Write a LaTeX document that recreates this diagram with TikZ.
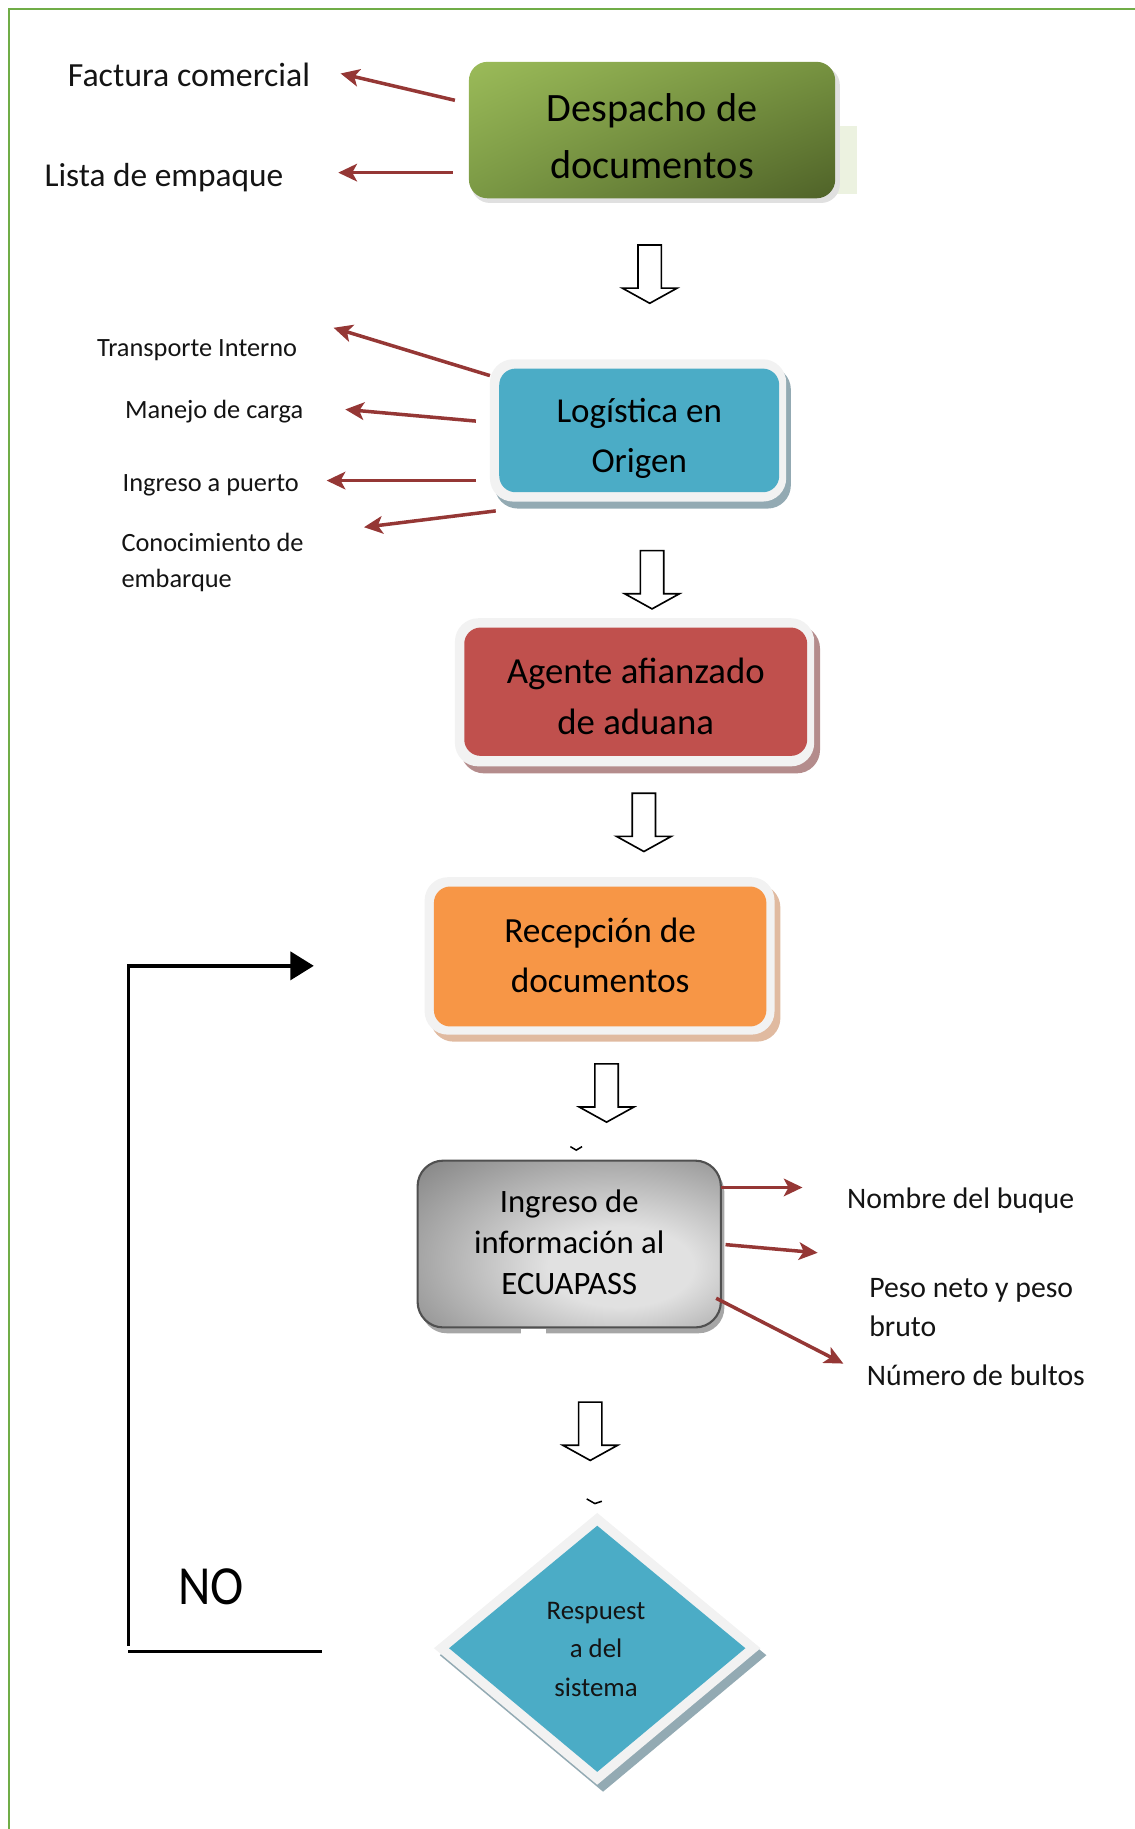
\documentclass[tikz,border=0pt]{standalone}
\usepackage{fontspec}
\setmainfont{Carlito}
\usetikzlibrary{arrows.meta,shapes.geometric,shadings}
\definecolor{borderC}{RGB}{112,173,71}
\definecolor{arrC}{RGB}{149,55,53}
\definecolor{blueC}{RGB}{75,172,198}
\definecolor{redC}{RGB}{192,80,77}
\definecolor{orangeC}{RGB}{247,150,70}
\definecolor{frameC}{RGB}{242,242,242}
\definecolor{blueSh}{RGB}{147,170,179}
\definecolor{redSh}{RGB}{180,140,140}
\definecolor{orangeSh}{RGB}{224,186,160}
\definecolor{gUL}{RGB}{155,187,89}
\definecolor{gUR}{RGB}{118,146,64}
\definecolor{gLL}{RGB}{122,152,68}
\definecolor{gLR}{RGB}{79,98,40}
\definecolor{gPale}{RGB}{236,242,224}
\definecolor{ecLight}{RGB}{225,225,225}
\definecolor{ecDark}{RGB}{105,105,105}
\definecolor{ecBorder}{RGB}{80,80,80}
\definecolor{txtC}{RGB}{20,20,20}
\pgfdeclareradialshading{ecuash}{\pgfpoint{10bp}{-8bp}}{color(0bp)=(ecLight); color(12bp)=(ecLight); color(50bp)=(ecDark); color(80bp)=(ecDark)}
\tikzset{
  frame/.style={fill=frameC, rounded corners=20pt},
  inbox/.style={rounded corners=14pt},
  boxtext/.style={align=center, inner sep=0pt, text=black},
  redarr/.style={draw=arrC, line width=3pt, -{Stealth[length=16pt,width=15pt,inset=4pt]}},
  lbl/.style={anchor=west, inner sep=0pt, text=txtC, align=left},
  hdown/.pic={\draw[fill=white,line width=1.4pt,line join=miter] (-10,0) -- (10,0) -- (10,37) -- (23.5,37) -- (0,50) -- (-23.5,37) -- (-10,37) -- cycle;}
}
\begin{document}
\begin{tikzpicture}[x=1pt,y=-1pt]
\useasboundingbox (0,0) rectangle (973,1568);
% page border
\draw[borderC, line width=2pt] (8,1570) -- (8,8) -- (975,8);

% ---- Box 1: Despacho de documentos
\fill[gPale] (700,108) rectangle (735,166);
\fill[black!12, rounded corners=16pt] (404,57) rectangle (720,174);
\shade[rounded corners=16pt, upper left=gUL, upper right=gUR, lower left=gLL, lower right=gLR]
      (402,53) rectangle (716,170);
\node[boxtext, font=\fontsize{34.5}{49}\selectfont] (desp) at (559,117) {Despacho de\\documentos};

\node[lbl, font=\fontsize{29}{35}\selectfont] (fact) at (58,64) {Factura comercial};
\node[lbl, font=\fontsize{28.6}{35}\selectfont] (lista) at (38,152) {Lista de empaque};
\coordinate (f1) at (390,86);  \coordinate (f2) at (292,63);
\coordinate (l1) at (388,148); \coordinate (l2) at (290,148);
\draw[redarr] (f1) -- (f2);
\draw[redarr] (l1) -- (l2);

\pic at (557,210) {hdown};

% ---- Box 2: Logistica en Origen
\fill[blueSh, rounded corners=20pt] (424,314) rectangle (678,436);
\fill[frame] (420,308) rectangle (674,430);
\fill[inbox, blueC] (428,316) rectangle (668,422);
\node[boxtext, font=\fontsize{30}{43}\selectfont] (log) at (548,376) {Logística en\\Origen};

\node[lbl, font=\fontsize{22.6}{31}\selectfont] (trans) at (83,300) {Transporte Interno};
\node[lbl, font=\fontsize{22.6}{31}\selectfont] (manejo) at (107,353) {Manejo de carga};
\node[lbl, font=\fontsize{22.6}{31}\selectfont] (ingp) at (105,416) {Ingreso a puerto};
\node[lbl, font=\fontsize{22.6}{31}\selectfont] (conoc) at (104,482) {Conocimiento de\\embarque};
\coordinate (t1) at (420,322); \coordinate (t2) at (286,281);
\coordinate (m1) at (408,361); \coordinate (m2) at (296,351);
\coordinate (p1) at (408,412); \coordinate (p2) at (280,412);
\coordinate (c1) at (425,438); \coordinate (c2) at (312,452);
\draw[redarr] (t1) -- (t2);
\draw[redarr] (m1) -- (m2);
\draw[redarr] (p1) -- (p2);
\draw[redarr] (c1) -- (c2);

\pic at (559,472) {hdown};

% ---- Box 3: Agente afianzado de aduana
\fill[redSh, rounded corners=20pt] (395,536) rectangle (703,663);
\fill[frame] (390,530) rectangle (698,657);
\fill[inbox, redC] (398,538) rectangle (692,648);
\node[boxtext, font=\fontsize{31.5}{44}\selectfont] (agente) at (545,597) {Agente afianzado\\de aduana};

\pic at (552,680) {hdown};

% ---- Box 4: Recepcion de documentos
\fill[orangeSh, rounded corners=20pt] (369,758) rectangle (669,893);
\fill[frame] (364,752) rectangle (664,887);
\fill[inbox, orangeC] (372,760) rectangle (657,880);
\node[boxtext, font=\fontsize{30.3}{43}\selectfont] (recep) at (514.5,819) {Recepción de\\documentos};

\pic at (520,912) {hdown};

% ---- Box 5: ECUAPASS
\draw[line width=1.3pt] (489,983) -- (494,986) -- (499,983);
\fill[black!35, rounded corners=22pt] (361,1000) rectangle (621,1143);
\fill[white] (447,1139) rectangle (468,1145);
\path[rounded corners=22pt, draw=ecBorder, line width=1.8pt, shading=ecuash] (358,995) rectangle (618,1138);
\node[boxtext, font=\fontsize{28}{35.5}\selectfont] (ecua) at (488,1065) {Ingreso de\\información al\\ECUAPASS};

\node[lbl, font=\fontsize{25.5}{33}\selectfont] (nomb) at (726,1029) {Nombre del buque};
\node[lbl, font=\fontsize{25.5}{33}\selectfont] (peso) at (745,1121) {Peso neto y peso\\bruto};
\node[lbl, font=\fontsize{25.5}{33}\selectfont] (bult) at (743,1179) {Número de bultos};
\coordinate (n1) at (618,1018); \coordinate (n2) at (688,1018);
\coordinate (w1) at (622,1067); \coordinate (w2) at (701,1074);
\coordinate (b1) at (614,1113); \coordinate (b2) at (723,1169);
\draw[redarr] (n1) -- (n2);
\draw[redarr] (w1) -- (w2);
\draw[redarr] (b1) -- (b2);

\pic at (506,1202) {hdown};

% ---- Diamond: Respuesta del sistema
\draw[line width=1.3pt] (503,1285) -- (510,1289) -- (516,1287);
\fill[blueSh] (517,1303) -- (657,1419) -- (517,1536) -- (377,1419) -- cycle;
\fill[frameC] (512,1297) -- (652,1413) -- (512,1530) -- (372,1413) -- cycle;
\fill[blueC] (512,1308) -- (639,1413) -- (512,1519) -- (385,1413) -- cycle;
\node[inner sep=0pt, align=center, text=txtC, font=\fontsize{23}{33}\selectfont] (resp) at (511,1414) {Respuest\\a del\\sistema};

% ---- NO loop
\coordinate (loopA) at (110,1411);
\coordinate (loopB) at (110,828);
\coordinate (loopC) at (269,828);
\coordinate (botA) at (110,1416);
\coordinate (botB) at (276,1416);
\draw[line width=3pt, -{Triangle[length=20pt,width=24pt]}] (loopA) -- (loopB) -- (loopC);
\draw[line width=3pt] (botA) -- (botB);
\node[inner sep=0pt, font=\fontsize{43}{50}\selectfont, yscale=1.1] (no) at (181,1360) {NO};
\end{tikzpicture}
\end{document}
